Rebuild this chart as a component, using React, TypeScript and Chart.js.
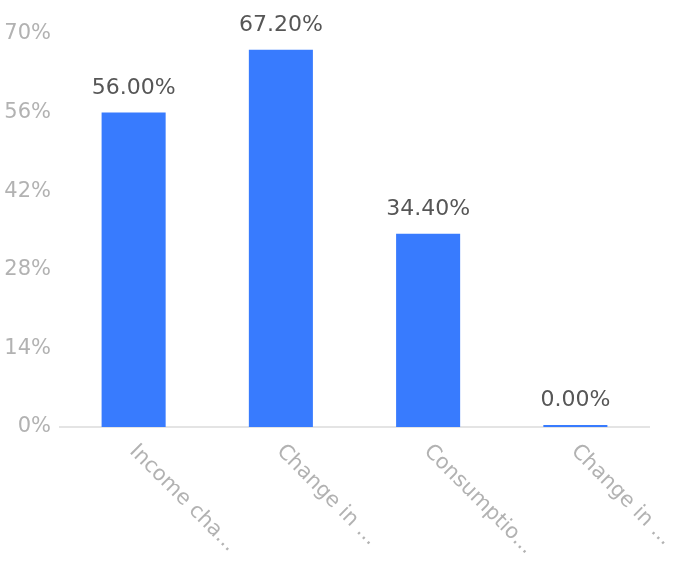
import React, { useEffect, useRef } from "react";
import { Chart, registerables } from "chart.js";

Chart.register(...registerables);

const categories = ["Income cha...", "Change in ...", "Consumptio...", "Change in ..."];
const values = [56, 67.2, 34.4, 0];
const yMax = 70;
const yStep = 14;

const FONT = "'DejaVu Sans', 'Liberation Sans', sans-serif";

export default function App() {
  const ref = useRef<HTMLCanvasElement | null>(null);

  useEffect(() => {
    document.body.style.margin = "0";
    const canvas = ref.current;
    if (!canvas) return;

    const valueLabels = {
      id: "valueLabels",
      afterDatasetsDraw(chart: any) {
        const ctx = chart.ctx;
        const meta = chart.getDatasetMeta(0);
        ctx.save();
        ctx.font = `22px ${FONT}`;
        ctx.fillStyle = "#565656";
        ctx.textAlign = "center";
        ctx.textBaseline = "alphabetic";
        meta.data.forEach((bar: any, i: number) => {
          ctx.fillText(values[i].toFixed(2) + "%", bar.x, bar.y - 19);
        });
        ctx.restore();
      },
    };

    const xLabels = {
      id: "xLabels",
      afterDraw(chart: any) {
        const ctx = chart.ctx;
        const xs = chart.scales.x;
        ctx.save();
        ctx.font = `21px ${FONT}`;
        ctx.fillStyle = "#b2b2b2";
        ctx.textAlign = "left";
        ctx.textBaseline = "alphabetic";
        categories.forEach((c, i) => {
          const x = xs.getPixelForValue(i);
          ctx.save();
          ctx.translate(x - 5, chart.chartArea.bottom + 25);
          ctx.rotate(Math.PI / 4);
          ctx.fillText(c, 0, 0);
          ctx.restore();
        });
        ctx.restore();
      },
    };

    const chart = new Chart(canvas, {
      type: "bar",
      data: {
        labels: categories,
        datasets: [
          {
            data: values,
            backgroundColor: "#387BFE",
            borderWidth: 0,
            barPercentage: 0.435,
            categoryPercentage: 1,
            minBarLength: 2,
          },
        ],
      },
      options: {
        animation: false,
        responsive: false,
        devicePixelRatio: 1,
        layout: { padding: { top: 34, right: 28, left: 0, bottom: 0 } },
        plugins: {
          legend: { display: false },
          tooltip: { enabled: false },
        },
        scales: {
          x: {
            grid: { display: false, drawTicks: false },
            border: { display: true, color: "#e4e4e4", width: 2 },
            ticks: { display: false },
            afterFit: (s: any) => {
              s.height = 151;
            },
          },
          y: {
            min: 0,
            max: yMax,
            grid: { display: false, drawTicks: false },
            border: { display: false },
            ticks: {
              stepSize: yStep,
              padding: 9,
              color: "#b2b2b2",
              font: { family: FONT, size: 21 },
              callback: (v: any) => v + "%",
            },
            afterFit: (s: any) => {
              s.width = 60;
            },
          },
        },
      },
      plugins: [valueLabels, xLabels],
    });

    return () => chart.destroy();
  }, []);

  return (
    <div style={{ width: 677, height: 578 }}>
      <canvas ref={ref} width={677} height={578} style={{ display: "block" }} />
    </div>
  );
}
